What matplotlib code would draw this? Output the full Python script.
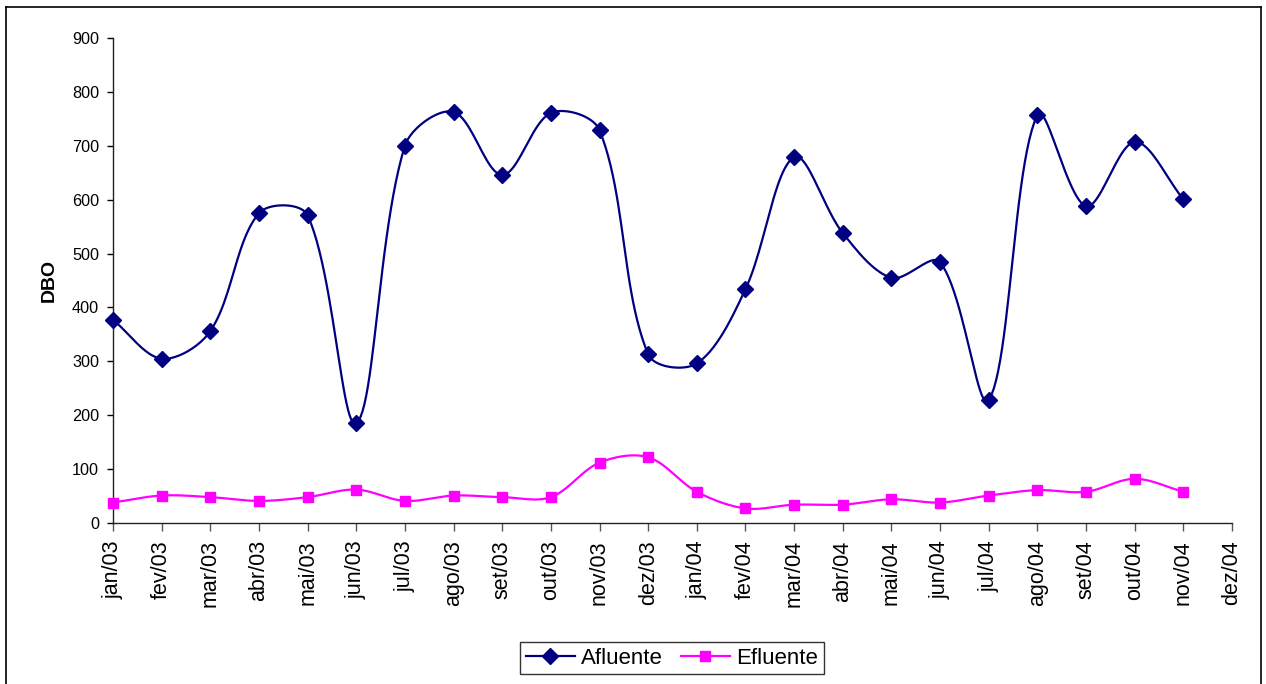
import numpy as np
import matplotlib
matplotlib.use("Agg")
from matplotlib import pyplot as plt
from matplotlib.lines import Line2D

plt.rcParams['font.family'] = ['Liberation Sans', 'DejaVu Sans']

# Monthly categories on the x axis
meses = ["jan/03", "fev/03", "mar/03", "abr/03", "mai/03", "jun/03",
         "jul/03", "ago/03", "set/03", "out/03", "nov/03", "dez/03",
         "jan/04", "fev/04", "mar/04", "abr/04", "mai/04", "jun/04",
         "jul/04", "ago/04", "set/04", "out/04", "nov/04", "dez/04"]

# DBO values (jan/03 .. nov/04)
afluente = [377, 305, 356, 575, 571, 185, 700, 763, 646, 761, 729, 313,
            296, 434, 679, 538, 455, 484, 228, 757, 588, 707, 601]
efluente = [38, 51, 48, 41, 48, 62, 41, 51, 48, 48, 112, 122,
            58, 27, 34, 34, 44, 38, 51, 61, 58, 82, 58]

# screen scale used for the smoothing (pixels per category / per DBO unit)
SX, SY = 48.65, 0.539


def smooth(y, steps=24):
    # Bezier "smoothed line": tangents scaled by neighbouring chord lengths
    y = np.asarray(y, dtype=float)
    x = np.arange(len(y), dtype=float)
    P = np.column_stack([x * SX, y * SY])
    P = np.vstack([P[0], P, P[-1]])
    t = np.linspace(0, 1, steps, endpoint=False)[:, None]
    pts = []
    for i in range(1, len(P) - 2):
        p0, p1, p2, p3 = P[i - 1], P[i], P[i + 1], P[i + 2]
        d01 = np.linalg.norm(p1 - p0)
        d12 = np.linalg.norm(p2 - p1)
        d23 = np.linalg.norm(p3 - p2)
        f1 = d12 / (3 * (d01 + d12)) if d01 + d12 > 0 else 0
        f2 = d12 / (3 * (d12 + d23)) if d12 + d23 > 0 else 0
        c1 = p1 + (p2 - p0) * f1
        c2 = p2 - (p3 - p1) * f2
        pts.append((1 - t) ** 3 * p1 + 3 * (1 - t) ** 2 * t * c1
                   + 3 * (1 - t) * t ** 2 * c2 + t ** 3 * p2)
    pts.append(P[-2][None, :])
    pts = np.vstack(pts)
    return pts[:, 0] / SX, pts[:, 1] / SY


fig = plt.figure(figsize=(12.66, 6.84), dpi=100)
ax = fig.add_axes([113 / 1266, 1 - 523 / 684, (1232 - 113) / 1266, (523 - 38) / 684])

series = [("Afluente", afluente, "#000080", "D", 8),
          ("Efluente", efluente, "#FF00FF", "s", 7.5)]
handles = []
for nome, vals, cor, mk, ms in series:
    sx, sy = smooth(vals)
    ax.plot(sx, sy, color=cor, lw=1.6, zorder=2)
    ax.plot(np.arange(len(vals)), vals, ls="none", marker=mk, ms=ms,
            color=cor, zorder=3, clip_on=False)
    handles.append(Line2D([], [], color=cor, lw=1.6, marker=mk, ms=ms, label=nome))

ax.set_xlim(0, len(meses) - 1)
ax.set_ylim(0, 900)
ax.set_xticks(np.arange(len(meses)))
ax.set_xticklabels(meses, rotation=90, fontsize=15.5)
ax.set_yticks(np.arange(0, 901, 100))
ax.tick_params(axis="y", labelsize=11.7, length=4, width=1, pad=6, direction="out")
ax.tick_params(axis="x", length=5.5, width=1, pad=7, direction="out", color="#555555")
ax.set_ylabel("DBO", fontsize=14, fontweight="bold", labelpad=10)

for s in ("top", "right"):
    ax.spines[s].set_visible(False)
for s in ("left", "bottom"):
    ax.spines[s].set_linewidth(1)
    ax.spines[s].set_color("#222222")

leg = fig.legend(handles=handles, loc="center", bbox_to_anchor=(672 / 1266, 1 - 658 / 684),
                 ncol=2, fontsize=16, frameon=True, fancybox=False, numpoints=1,
                 handlelength=2.2, columnspacing=0.8, handletextpad=0.3,
                 borderpad=0.25, borderaxespad=0)
leg.get_frame().set_edgecolor("black")
leg.get_frame().set_linewidth(1)

# outer chart border (bottom edge falls outside the canvas)
for xs_, ys_ in (([6 / 1266, 6 / 1266], [0, 1 - 7 / 684]),
                 ([6 / 1266, 1261 / 1266], [1 - 7 / 684, 1 - 7 / 684]),
                 ([1261 / 1266, 1261 / 1266], [0, 1 - 7 / 684])):
    fig.add_artist(Line2D(xs_, ys_, color="black", lw=1.2, transform=fig.transFigure))

fig.savefig("out.png", dpi=100)
